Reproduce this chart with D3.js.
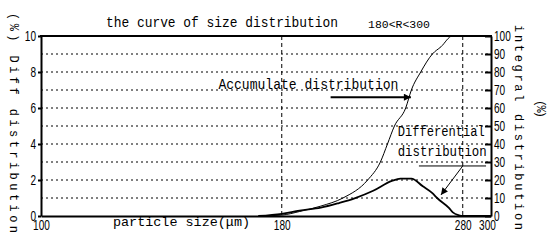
<!DOCTYPE html>
<html>
<head>
<meta charset="utf-8">
<script src="https://cdn.jsdelivr.net/npm/d3@7"></script>
<style>
  body { margin: 0; background: #fff; }
  svg text { fill: #000; }
  .mono { font-family: "Liberation Mono", "DejaVu Sans Mono", monospace; }
  .num { font-family: "Liberation Sans", Arial, sans-serif; font-size: 15px; }
</style>
</head>
<body>
<svg id="chart"></svg>
<script>
// particle size (um) on a log axis
const xTicks = [100, 180, 280, 300]
const diffTicks = [0, 2, 4, 6, 8, 10]
const integralTicks = [0, 10, 20, 30, 40, 50, 60, 70, 80, 90, 100]
const gridRows = [1, 2, 3, 4, 5, 6, 7, 8, 9]
const gridCols = [180, 280]

// differential distribution (%), left axis
const diffSize  = [170, 180, 188, 198, 207, 215, 225, 235.5, 240.5, 247, 254, 260, 263, 270.7, 273.3, 277.4, 280, 300]
const diffValue = [0, 0.12, 0.3, 0.46, 0.72, 0.98, 1.4, 1.95, 2.08, 2.08, 1.65, 1.27, 1.0, 0.45, 0.2, 0.04, 0, 0]

// integral (accumulated) distribution (%), right axis
const cumSize  = [170, 180, 188, 198, 209, 222, 229, 233, 237, 243.6, 247, 252.7, 260, 265.5, 273, 300]
const cumValue = [0, 0.5, 2.5, 5.5, 10, 20, 30, 40, 50, 60, 70, 80, 90, 94, 100, 100]

const margin = { top: 36, left: 41, right: 67, bottom: 36 }
const W = 558, H = 252
const width = W - margin.left - margin.right
const height = H - margin.top - margin.bottom

const x = d3.scaleLog().domain([100, 300]).range([0, width])
const yDiff = d3.scaleLinear().domain([0, 10]).range([height, 0])
const yInt = d3.scaleLinear().domain([0, 100]).range([height, 0])

const svg = d3.select('#chart').attr('width', W).attr('height', H)

svg.append('defs').append('marker')
    .attr('id', 'arrow')
    .attr('viewBox', '0 0 10 10')
    .attr('refX', 10).attr('refY', 5)
    .attr('markerWidth', 9).attr('markerHeight', 7)
    .attr('markerUnits', 'userSpaceOnUse')
    .attr('orient', 'auto')
  .append('path')
    .attr('d', 'M0,0L10,5L0,10z')
    .attr('fill', '#000')

const g = svg.append('g').attr('transform', `translate(${margin.left},${margin.top})`)

// grid
g.selectAll('.row').data(gridRows).enter().append('line')
  .attr('x1', 0).attr('x2', width)
  .attr('y1', d => yDiff(d)).attr('y2', d => yDiff(d))
  .attr('stroke', '#000').attr('stroke-width', 1).attr('stroke-dasharray', '2,3')
g.selectAll('.col').data(gridCols).enter().append('line')
  .attr('x1', d => x(d)).attr('x2', d => x(d))
  .attr('y1', 0).attr('y2', height)
  .attr('stroke', '#000').attr('stroke-width', 1).attr('stroke-dasharray', '4,3')

// curves
const diffLine = d3.line().x(d => x(d[0])).y(d => yDiff(d[1])).curve(d3.curveMonotoneX)
const cumLine = d3.line().x(d => x(d[0])).y(d => yInt(d[1])).curve(d3.curveMonotoneX)
g.append('path')
  .datum(cumSize.map((s, i) => [s, cumValue[i]]))
  .attr('fill', 'none').attr('stroke', '#000').attr('stroke-width', 1)
  .attr('d', cumLine)
g.append('path')
  .datum(diffSize.map((s, i) => [s, diffValue[i]]))
  .attr('fill', 'none').attr('stroke', '#000').attr('stroke-width', 1.8)
  .attr('d', diffLine)

// axes
const numWidth = d => String(d).length * 5.6

const left = g.append('g')
  .call(d3.axisLeft(yDiff).tickValues(diffTicks).tickSize(3).tickSizeOuter(0).tickPadding(2))
const right = g.append('g').attr('transform', `translate(${width},0)`)
  .call(d3.axisRight(yInt).tickValues(integralTicks).tickSize(-6).tickSizeOuter(0).tickPadding(8))
const bottom = g.append('g').attr('transform', `translate(0,${height})`)
  .call(d3.axisBottom(x).tickValues(xTicks).tickFormat(d3.format('d')).tickSize(0).tickPadding(3))

for (let ax of [left, right, bottom]) {
  ax.select('.domain').attr('stroke', '#000').attr('stroke-width', 2)
  ax.selectAll('.tick line').attr('stroke', '#000').attr('stroke-width', 2)
  ax.selectAll('.tick text')
    .attr('class', 'num')
    .attr('font-family', null).attr('font-size', null)
    .attr('textLength', d => numWidth(d))
    .attr('lengthAdjust', 'spacingAndGlyphs')
}
right.selectAll('.tick text').attr('x', 3)
bottom.selectAll('.tick text').filter(d => d === 300).attr('dx', -4)

g.append('line')
  .attr('x1', -1).attr('x2', width + 1).attr('y1', 0).attr('y2', 0)
  .attr('stroke', '#000').attr('stroke-width', 2)

// titles
svg.append('text').attr('class', 'mono')
  .attr('x', 106).attr('y', 27).attr('font-size', 14)
  .attr('textLength', 232).attr('lengthAdjust', 'spacingAndGlyphs')
  .text('the curve of size distribution')
svg.append('text').attr('class', 'mono')
  .attr('x', 368).attr('y', 28).attr('font-size', 11)
  .attr('textLength', 62).attr('lengthAdjust', 'spacingAndGlyphs')
  .text('180<R<300')
svg.append('text').attr('class', 'mono')
  .attr('x', 113).attr('y', 226).attr('font-size', 13)
  .attr('textLength', 137).attr('lengthAdjust', 'spacingAndGlyphs')
  .text('particle size(μm)')

svg.append('text').attr('class', 'mono')
  .attr('transform', 'translate(10,13) rotate(90)').attr('font-size', 12)
  .attr('textLength', 220).attr('lengthAdjust', 'spacing')
  .text('(%) Diff distribution')
svg.append('text').attr('class', 'mono')
  .attr('transform', 'translate(515,25) rotate(90)').attr('font-size', 12)
  .attr('textLength', 205).attr('lengthAdjust', 'spacing')
  .text('integral distribution')
svg.append('text').attr('class', 'mono')
  .attr('transform', 'translate(537,100) rotate(90)').attr('font-size', 12)
  .attr('textLength', 18).attr('lengthAdjust', 'spacing')
  .text('(%)')

// annotations (size, value)
g.append('text').attr('class', 'mono')
  .attr('x', x(154.2)).attr('y', yDiff(7.05)).attr('font-size', 14)
  .attr('textLength', 180).attr('lengthAdjust', 'spacingAndGlyphs')
  .text('Accumulate distribution')
g.append('line')
  .attr('x1', x(202.8)).attr('x2', x(246.7))
  .attr('y1', yInt(66)).attr('y2', yInt(66))
  .attr('stroke', '#000').attr('stroke-width', 2)
  .attr('marker-end', 'url(#arrow)')

g.append('text').attr('class', 'mono')
  .attr('x', x(238.9)).attr('y', yDiff(4.44)).attr('font-size', 14)
  .attr('textLength', 87).attr('lengthAdjust', 'spacingAndGlyphs')
  .text('Differential')
g.append('text').attr('class', 'mono')
  .attr('x', x(238.9)).attr('y', yDiff(3.33)).attr('font-size', 14)
  .attr('textLength', 89).attr('lengthAdjust', 'spacingAndGlyphs')
  .text('distribution')
g.append('line')
  .attr('x1', x(251.6)).attr('x2', x(296.4))
  .attr('y1', yInt(27.8)).attr('y2', yInt(27.8))
  .attr('stroke', '#000').attr('stroke-width', 1)
g.append('line')
  .attr('x1', x(280)).attr('x2', x(265.5))
  .attr('y1', yInt(27.8)).attr('y2', yInt(11.7))
  .attr('stroke', '#000').attr('stroke-width', 1)
  .attr('marker-end', 'url(#arrow)')
</script>
</body>
</html>
